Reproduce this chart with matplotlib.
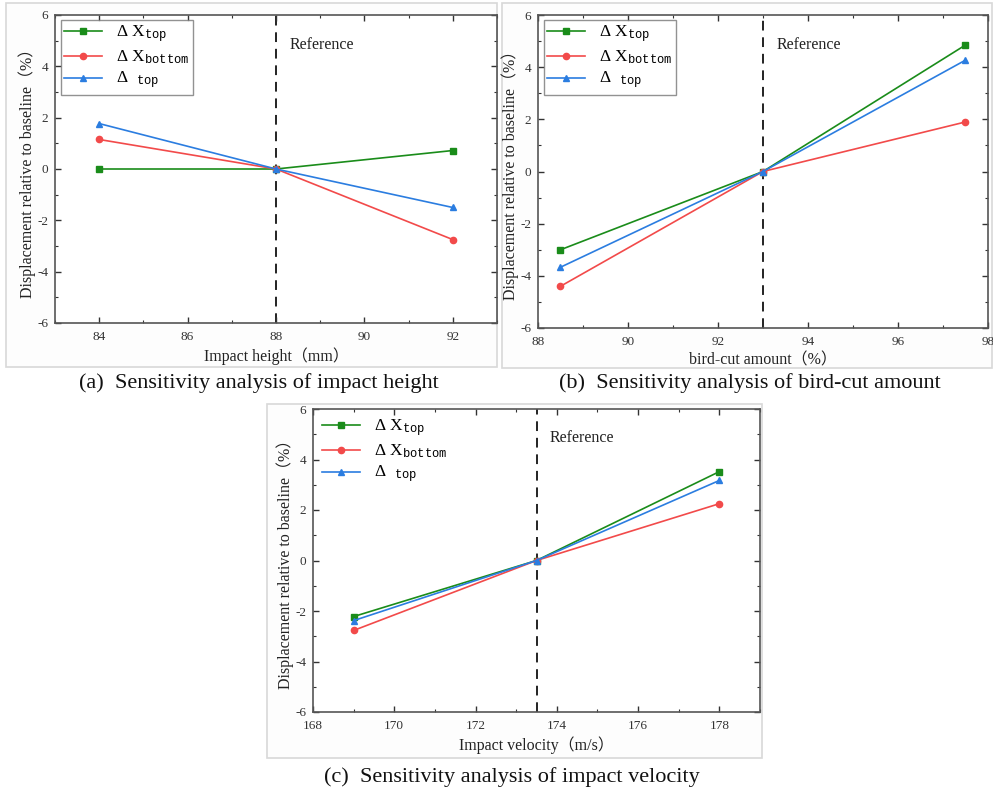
import matplotlib
matplotlib.use("Agg")
import matplotlib.pyplot as plt
from matplotlib.patches import Rectangle
from matplotlib.ticker import MultipleLocator

plt.rcParams['font.family'] = ['Liberation Serif', 'Noto Sans CJK SC']
plt.rcParams['mathtext.fontset'] = 'custom'
plt.rcParams['mathtext.rm'] = 'Liberation Serif'
plt.rcParams['mathtext.it'] = 'Liberation Serif'
plt.rcParams['mathtext.tt'] = 'Liberation Mono'
plt.rcParams['axes.unicode_minus'] = False

# ---------------- data ----------------
series_labels = [r"$\Delta$ X$_{\mathtt{top}}$",
                 r"$\Delta$ X$_{\mathtt{bottom}}$",
                 r"$\Delta$  $_{\mathtt{top}}$"]

# (a) impact height
height_x = [84, 88, 92]
height_dx_top = [0.0, 0.0, 0.72]
height_dx_bottom = [1.15, 0.0, -2.75]
height_d_top = [1.77, 0.0, -1.50]
height_ref = 88

# (b) bird-cut amount
cut_x = [88.5, 93, 97.5]
cut_dx_top = [-3.00, 0.0, 4.85]
cut_dx_bottom = [-4.40, 0.0, 1.90]
cut_d_top = [-3.67, 0.0, 4.27]
cut_ref = 93

# (c) impact velocity
vel_x = [169, 173.5, 178]
vel_dx_top = [-2.22, 0.0, 3.52]
vel_dx_bottom = [-2.77, 0.0, 2.25]
vel_d_top = [-2.38, 0.0, 3.17]
vel_ref = 173.5

colors = ['#1a8c1a', '#f24a4a', '#2b7de0']
markers = ['s', 'o', '^']

W, H = 993, 790
fig = plt.figure(figsize=(W / 100, H / 100), dpi=100)
fig.patch.set_facecolor('white')


def px_rect(l, t, r, b):
    return [l / W, 1 - b / H, (r - l) / W, (b - t) / H]


# panel frames (behind the axes)
for (l, t, r, b) in [(6, 3, 497, 367), (502, 3, 992, 368), (267, 404, 762, 758)]:
    fig.patches.append(Rectangle((l / W, 1 - b / H), (r - l) / W, (b - t) / H,
                                 transform=fig.transFigure, facecolor='#fdfdfd',
                                 edgecolor='#d8d8d8', linewidth=1.2, zorder=-5))


def panel(rect, xs, ys_list, ref, xlim, xmaj, xlabel, legend_frame=True):
    ax = fig.add_axes(px_rect(*rect))
    ax.set_zorder(2)
    ax.set_facecolor('white')
    for ys, c, m, lab in zip(ys_list, colors, markers, series_labels):
        ax.plot(xs, ys, color=c, marker=m, markersize=4.5, linewidth=1.2, label=lab)
    ax.axvline(ref, color='#222222', linestyle=(0, (5, 3.5)), linewidth=1.4, zorder=1)
    ax.set_xlim(*xlim)
    ax.set_ylim(-6, 6)
    ax.xaxis.set_major_locator(MultipleLocator(xmaj))
    ax.xaxis.set_minor_locator(MultipleLocator(xmaj / 2))
    ax.yaxis.set_major_locator(MultipleLocator(2))
    ax.yaxis.set_minor_locator(MultipleLocator(1))
    ax.tick_params(which='both', direction='in', top=True, right=True,
                   labelsize=9.5, labelcolor='#333333', color='#333333')
    ax.tick_params(which='major', length=4, width=1)
    ax.tick_params(which='minor', length=2.5, width=0.8)
    ax.tick_params(axis='x', which='major', pad=6)
    ax.tick_params(axis='y', which='major', pad=5)
    for s in ax.spines.values():
        s.set_color('#555555')
        s.set_linewidth(1.2)
    xr = xlim[1] - xlim[0]
    ax.text(ref + 0.03 * xr, 4.85, 'Reference', fontsize=11.5, va='center', ha='left',
            color='#222222')
    ax.set_xlabel(xlabel, fontsize=11.5, labelpad=3, color='#222222')
    ax.set_ylabel('Displacement relative to baseline（%）', fontsize=11.5,
                  labelpad=1, color='#222222')
    leg = ax.legend(loc='upper left', bbox_to_anchor=(0.005, 0.995), fontsize=12.5,
                    handlelength=2.2, handletextpad=0.8, labelspacing=0.22,
                    borderpad=0.2, fancybox=False, frameon=legend_frame,
                    borderaxespad=0.2)
    if legend_frame:
        leg.get_frame().set_edgecolor('#777777')
        leg.get_frame().set_linewidth(1.0)
    return ax


panel((55, 15, 497, 323), height_x,
      [height_dx_top, height_dx_bottom, height_d_top], height_ref, (83, 93), 2,
      'Impact height（mm）')
panel((538, 15, 988, 328), cut_x,
      [cut_dx_top, cut_dx_bottom, cut_d_top], cut_ref, (88, 98), 2,
      'bird-cut amount（%）')
panel((313, 409, 760, 712), vel_x,
      [vel_dx_top, vel_dx_bottom, vel_d_top], vel_ref, (168, 179), 2,
      'Impact velocity（m/s）', legend_frame=False)

cap_fs = 16
fig.text(259 / W, 1 - 383 / H, '(a)  Sensitivity analysis of impact height',
         fontsize=cap_fs, ha='center', va='center', color='#111111')
fig.text(750 / W, 1 - 383 / H, '(b)  Sensitivity analysis of bird-cut amount',
         fontsize=cap_fs, ha='center', va='center', color='#111111')
fig.text(512 / W, 1 - 777 / H, '(c)  Sensitivity analysis of impact velocity',
         fontsize=cap_fs, ha='center', va='center', color='#111111')

fig.savefig('out.png', dpi=100)
